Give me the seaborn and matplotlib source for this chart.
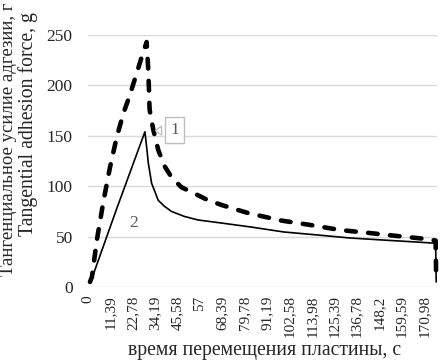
import numpy as np
import pandas as pd
import seaborn as sns
import matplotlib.pyplot as plt

# Tangential adhesion force vs plate travel time (curves 1 and 2).

time_1 = [1.0, 2.0, 4.55, 7.94, 11.27, 14.66, 18.05, 21.23, 24.77, 27.3, 29.83, 30.69,
          31.35, 33.22, 35.74, 38.93, 42.47, 47.52, 53.44, 60.16, 67.75, 81.24, 98.08,
          113.25, 128.41, 143.58, 157.23, 172.4, 176.9, 177.2]
force_1 = [5, 10, 47, 86, 119.5, 149, 172.5, 190, 212, 228, 243, 215,
           176, 156, 136, 120, 109, 99, 93.5, 87, 81.5, 73.5, 66,
           61.5, 56.5, 53.5, 50.6, 47.6, 46, 5]

time_2 = [1.16, 14.66, 28.97, 29.83, 30.69, 32.36, 35.74, 38.93, 42.47, 49.04, 55.97,
          67.75, 82.91, 99.6, 116.78, 133.47, 150.15, 167.34, 176.9, 177.2]
force_2 = [4, 78, 154, 139, 123, 103, 86, 80, 75, 70, 66.5,
           63.5, 59.5, 54.6, 51.6, 48.6, 46.6, 44.6, 43.4, 5]

tick_pos = [0, 11.39, 22.78, 34.19, 45.58, 57, 68.39, 79.78, 91.19, 102.58, 113.98,
            125.39, 136.78, 148.2, 159.59, 170.98]
tick_labels = ['0', '11,39', '22,78', '34,19', '45,58', '57', '68,39', '79,78', '91,19',
               '102,58', '113,98', '125,39', '136,78', '148,2', '159,59', '170,98']
y_ticks = [0, 50, 100, 150, 200, 250]

sns.set_style('white')
plt.rcParams['font.family'] = ['Liberation Serif', 'DejaVu Serif']

df1 = pd.DataFrame({'t': time_1, 'f': force_1})
df2 = pd.DataFrame({'t': time_2, 'f': force_2})

fig = plt.figure(figsize=(4.41, 3.6), dpi=100)
ax = fig.add_axes([88 / 441, 1 - 287 / 360, 349 / 441, 252 / 360])

for y in y_ticks:
    ax.axhline(y, color='#d9d9d9', lw=1, zorder=0)

sns.lineplot(data=df1, x='t', y='f', ax=ax, color='black', lw=3.3, sort=False,
             estimator=None, linestyle=(0, (2.1, 2.7)), dash_capstyle='round',
             clip_on=False)
sns.lineplot(data=df2, x='t', y='f', ax=ax, color='black', lw=1.2, sort=False,
             estimator=None, clip_on=False)

ax.set_xlim(0, 177.6)
ax.set_ylim(0, 250)
ax.set_xticks(tick_pos)
ax.set_xticklabels(tick_labels, rotation=90, fontsize=11)
ax.set_yticks(y_ticks)
ax.set_yticklabels([str(v) for v in y_ticks], fontsize=12.5)
ax.tick_params(axis='x', length=0, pad=6)
ax.tick_params(axis='y', length=0, pad=11)
ax.set_xlabel('')
ax.set_ylabel('')
sns.despine(ax=ax, left=True, bottom=True, top=True, right=True)

ax.annotate('1', xy=(33.0, 155), xytext=(44, 155.5), fontsize=12.5, color='#595959',
            ha='center', va='center',
            bbox=dict(boxstyle='square,pad=0.3', fc='white', ec='#bfbfbf', lw=1),
            arrowprops=dict(arrowstyle='wedge,tail_width=0.5,shrink_factor=0.6',
                            fc='white', ec='#bfbfbf', lw=1))
ax.text(23.1, 63, '2', fontsize=12.5, color='#595959', ha='center', va='center')

fig.text(265 / 441, 1 - 351 / 360, 'время перемещения пластины, с', fontsize=14.2,
         ha='center', va='center')
fig.text(9 / 441, 1 - 139 / 360, 'Тангенциальное усилие адгезии, г', fontsize=13.5,
         rotation=90, ha='center', va='center')
fig.text(28 / 441, 1 - 124 / 360, 'Tangential adhesion force, g', fontsize=14.2,
         rotation=90, ha='center', va='center')

fig.savefig('out.png', dpi=100)
